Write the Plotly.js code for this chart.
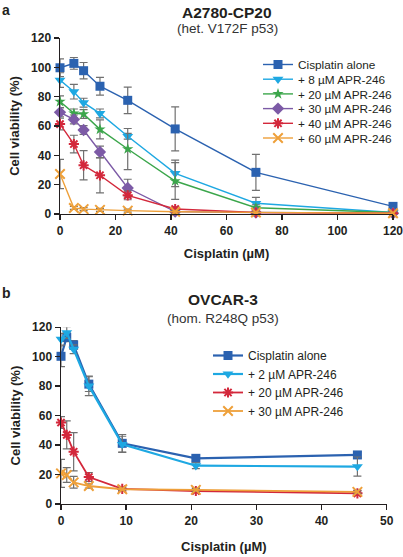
<!DOCTYPE html>
<html><head><meta charset="utf-8">
<script src="https://cdn.plot.ly/plotly-3.0.1.min.js"></script>
<style>html,body{margin:0;padding:0;background:#fff}#chart{width:403px;height:557px}</style>
</head><body><div id="chart"></div>
<script>
// ---- Panel a: A2780-CP20 ----
const dosesA = [0, 5, 8.5, 14.4, 24.4, 41.5, 70.6, 120];
const cisA      = [99.7, 102.7, 97.7, 87.1, 77.5, 58.0, 28.4, 5.2];
const cisAErr   = [6, 4, 5.6, 6, 9, 15, 12.3, 1];
const apr8      = [91.3, 83.4, 75.9, 68.6, 53.0, 27.7, 7.3, 1.0];
const apr8Err   = [5, 5, 3, 3, 2, 9, 4, 0.5];
const apr20     = [76.6, 68.6, 68.2, 57.7, 44.3, 22.5, 4.3, 1.0];
const apr20Err  = [4, 3, 3, 6.5, 14, 12.5, 2, 0.5];
const apr30     = [69.3, 64.5, 57.3, 42.3, 17.7, 1.6, 1.0, 0.5];
const apr30Err  = [3, 3, 3, 4, 6, 1, 0.5, 0.3];
const apr40     = [61.3, 47.7, 33.2, 26.4, 12.7, 3.4, 1.0, 0.5];
const apr40Err  = [4, 6, 10, 12, 3, 1.5, 0.5, 0.3];
const apr60     = [27.3, 4.1, 3.3, 2.8, 2.3, 1.5, 1.0, 0.5];
const apr60Err  = [10, 1, 1, 1, 1, 1, 0.5, 0.3];
const namesA = ["Cisplatin alone", "+ 8 µM APR-246", "+ 20 µM APR-246", "+ 30 µM APR-246", "+ 40 µM APR-246", "+ 60 µM APR-246"];

// ---- Panel b: OVCAR-3 ----
const dosesB = [0, 0.88, 1.94, 4.27, 9.4, 20.7, 45.5];
const cisB      = [100.3, 113.2, 108.0, 81.4, 41.2, 31.0, 33.3];
const cisBErr   = [7, 3, 3, 5, 6, 2, 2];
const apr2      = [111.9, 116.4, 105.1, 80.2, 40.5, 26.0, 25.4];
const apr2Err   = [4, 4, 3, 6.6, 5.5, 2, 6.5];
const apr20B    = [55.3, 46.9, 35.5, 18.3, 10.2, 8.8, 7.2];
const apr20BErr = [4, 9.5, 13, 3, 1, 1, 1];
const apr30B    = [20.8, 19.7, 14.7, 12.2, 10.0, 9.6, 8.2];
const apr30BErr = [9.5, 5, 4, 1.5, 1, 1, 1];
const namesB = ["Cisplatin alone", "+ 2 µM APR-246", "+ 20 µM APR-246", "+ 30 µM APR-246"];

const C = {blue:'#2b62b0', cyan:'#1ea8e2', green:'#3ba64b', purple:'#7c5aa6', red:'#d3283b', orange:'#eea03a'};
const errStyle = (arr) => ({type:'data', array: arr, visible:true, color:'#707070', thickness:1.2, width:4});

function tr(x, y, err, name, color, symbol, size, lw, xa, ya, leg, open) {
  return {
    x: x, y: y, name: name, type:'scatter', mode:'lines+markers',
    xaxis: xa, yaxis: ya, legend: leg, cliponaxis:false,
    line: {color: color, width: lw},
    marker: {symbol: symbol, size: size, color: color,
             line: {color: color, width: open ? 2 : 0}},
    error_y: errStyle(err)
  };
}

const data = [
  tr(dosesA, cisA, cisAErr, namesA[0], C.blue, 'square', 9, 1.4, 'x', 'y', 'legend'),
  tr(dosesA, apr8, apr8Err, namesA[1], C.cyan, 'triangle-down', 9.5, 1.4, 'x', 'y', 'legend'),
  tr(dosesA, apr20, apr20Err, namesA[2], C.green, 'star', 8.5, 1.4, 'x', 'y', 'legend'),
  tr(dosesA, apr30, apr30Err, namesA[3], C.purple, 'diamond', 9.5, 1.4, 'x', 'y', 'legend'),
  tr(dosesA, apr40, apr40Err, namesA[4], C.red, 'asterisk-open', 8.5, 1.4, 'x', 'y', 'legend', true),
  tr(dosesA, apr60, apr60Err, namesA[5], C.orange, 'x-thin-open', 9.5, 1.4, 'x', 'y', 'legend', true),
  tr(dosesB, cisB, cisBErr, namesB[0], C.blue, 'square', 9, 2.2, 'x2', 'y2', 'legend2'),
  tr(dosesB, apr2, apr2Err, namesB[1], C.cyan, 'triangle-down', 9.5, 2.2, 'x2', 'y2', 'legend2'),
  tr(dosesB, apr20B, apr20BErr, namesB[2], C.red, 'asterisk-open', 8.5, 1.8, 'x2', 'y2', 'legend2', true),
  tr(dosesB, apr30B, apr30BErr, namesB[3], C.orange, 'x-thin-open', 9.5, 1.8, 'x2', 'y2', 'legend2', true)
];

const FAM = 'Liberation Sans, Arial, sans-serif';
const tickFont = {family:FAM, size:12, color:'#231f20', weight:'bold'};
const titleFont = {family:FAM, size:13, color:'#231f20', weight:'bold'};
function ax(extra) {
  return Object.assign({
    showgrid:false, zeroline:false, showline:true, linecolor:'#231f20', linewidth:1.5,
    ticks:'outside', ticklen:5, tickwidth:1.5, tickcolor:'#231f20', tickfont:tickFont,
    ticklabeloverflow:'allow', fixedrange:true
  }, extra);
}

const layout = {
  width:403, height:557, margin:{l:0,r:0,t:0,b:0},
  paper_bgcolor:'#fff', plot_bgcolor:'#fff', font:{family:FAM},
  showlegend:true,
  xaxis: ax({domain:[0.1489,0.9752], anchor:'y', range:[0,120], tickvals:[0,20,40,60,80,100,120],
    title:{text:'Cisplatin (µM)', font:titleFont, standoff:12}}),
  yaxis: ax({domain:[0.6158,0.9318], anchor:'x', range:[0,120], tickvals:[0,20,40,60,80,100,120],
    title:{text:'Cell viability (%)', font:titleFont, standoff:8}}),
  xaxis2: ax({domain:[0.1514,0.9596], anchor:'y2', range:[0,50], tickvals:[0,10,20,30,40,50],
    title:{text:'Cisplatin (µM)', font:titleFont, standoff:15}}),
  yaxis2: ax({domain:[0.0952,0.4124], anchor:'x2', range:[0,120], tickvals:[0,20,40,60,80,100,120],
    title:{text:'Cell viability (%)', font:titleFont, standoff:8}}),
  legend: {x:258/403, xanchor:'left', y:1-50/557, yanchor:'top', bgcolor:'rgba(0,0,0,0)', font:{family:FAM, size:11.8, color:'#231f20'}, borderwidth:0},
  legend2: {x:208/403, xanchor:'left', y:1-341/557, yanchor:'top', bgcolor:'rgba(0,0,0,0)', font:{family:FAM, size:12, color:'#231f20'}, borderwidth:0},
  annotations: [
    {text:'<b>a</b>', xref:'paper', yref:'paper', x:0, y:1, xanchor:'left', yanchor:'top', showarrow:false, font:{size:14, color:'#231f20'}},
    {text:'<b>A2780-CP20</b>', xref:'paper', yref:'paper', x:227/403, y:1-12/557, xanchor:'center', yanchor:'middle', showarrow:false, font:{size:15.5, color:'#231f20'}},
    {text:'(het. V172F p53)', xref:'paper', yref:'paper', x:227/403, y:1-29/557, xanchor:'center', yanchor:'middle', showarrow:false, font:{size:13.5, color:'#333'}},
    {text:'<b>b</b>', xref:'paper', yref:'paper', x:0, y:1-283/557, xanchor:'left', yanchor:'top', showarrow:false, font:{size:14, color:'#231f20'}},
    {text:'<b>OVCAR-3</b>', xref:'paper', yref:'paper', x:223/403, y:1-299/557, xanchor:'center', yanchor:'middle', showarrow:false, font:{size:15.5, color:'#231f20'}},
    {text:'(hom. R248Q p53)', xref:'paper', yref:'paper', x:223/403, y:1-318/557, xanchor:'center', yanchor:'middle', showarrow:false, font:{size:13.5, color:'#333'}}
  ]
};

Plotly.newPlot('chart', data, layout, {displayModeBar:false, staticPlot:true}).then(function(gd){
  // tighten legend row spacing to match the reference
  function tighten(cls, gap) {
    const items = gd.querySelectorAll('g.' + cls + ' g.traces');
    if (!items.length) return;
    const m = /translate\(([-\d.]+),\s*([-\d.]+)\)/.exec(items[0].getAttribute('transform') || '');
    if (!m) return;
    const x0 = parseFloat(m[1]), y0 = parseFloat(m[2]);
    items.forEach(function(el, i){ el.setAttribute('transform', 'translate(' + x0 + ',' + (y0 + i*gap) + ')'); });
  }
  tighten('legend', 14.7);
  tighten('legend2', 18.5);
});
</script></body></html>
